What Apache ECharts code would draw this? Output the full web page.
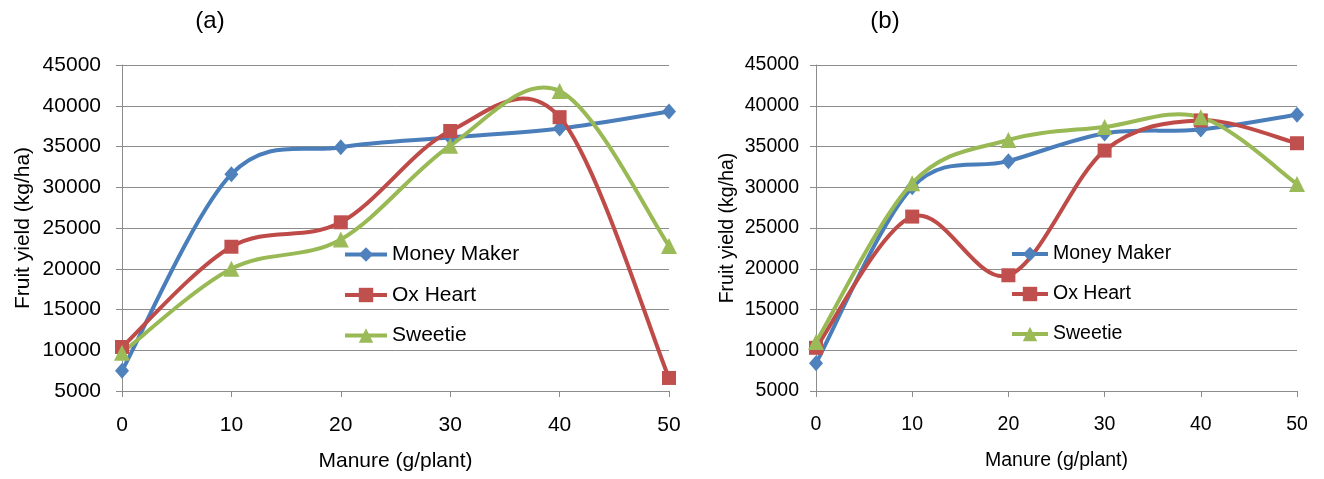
<!DOCTYPE html>
<html><head><meta charset="utf-8">
<script src="https://cdn.jsdelivr.net/npm/echarts@6/dist/echarts.min.js"></script>
<style>html,body{margin:0;padding:0;background:#fff}#c{width:1324px;height:479px}</style>
</head><body><div id="c"></div>
<script>
const manure = [0, 10, 20, 30, 40, 50];
const yTicks = [5000, 10000, 15000, 20000, 25000, 30000, 35000, 40000, 45000];
const seriesNames = ['Money Maker', 'Ox Heart', 'Sweetie'];
const aMoneyMaker = [7500, 31600, 34900, 36100, 37200, 39300];
const aOxHeart = [10400, 22700, 25700, 36900, 38600, 6600];
const aSweetie = [9700, 20000, 23600, 35100, 41800, 22800];
const bMoneyMaker = [8400, 30000, 33200, 36600, 37100, 38900];
const bOxHeart = [10300, 26400, 19200, 34500, 38200, 35400];
const bSweetie = [11000, 30500, 35800, 37400, 38600, 30400];
const panelTitles = ['(a)', '(b)'];
const xTitle = 'Manure (g/plant)';
const yTitle = 'Fruit yield (kg/ha)';

const FONT = '"Liberation Sans", Arial, sans-serif';
const lineColors = ['#4A7EBB', '#BE4B48', '#98B954'];
const markColors = ['#4F81BD', '#C0504D', '#9BBB59'];
const symbols = ['diamond', 'rect', 'triangle'];
const symSizes = [[14, 16], 14, 16];
const GRID = '#8c8c8c';

function pair(arr) { return manure.map((x, i) => [x, arr[i]]); }

function axesFor(idx, fs, ylabMargin, yNameGap) {
  const x = {
    type: 'value', gridIndex: idx, min: manure[0], max: manure[manure.length - 1], interval: 10,
    name: xTitle, nameLocation: 'middle', nameGap: 60,
    nameTextStyle: { fontFamily: FONT, fontSize: fs, color: '#000' },
    axisLine: { show: true, lineStyle: { color: GRID, width: 1 } },
    axisTick: { show: true, length: 6, lineStyle: { color: GRID } },
    axisLabel: { fontFamily: FONT, fontSize: fs, color: '#000', margin: 24 },
    splitLine: { show: false }
  };
  const y = {
    type: 'value', gridIndex: idx, min: yTicks[0], max: yTicks[yTicks.length - 1], interval: 5000,
    name: yTitle, nameLocation: 'middle', nameGap: yNameGap,
    nameTextStyle: { fontFamily: FONT, fontSize: fs, color: '#000' },
    axisLine: { show: true, lineStyle: { color: GRID, width: 1 } },
    axisTick: { show: true, length: 6, lineStyle: { color: GRID } },
    axisLabel: { fontFamily: FONT, fontSize: fs, color: '#000', margin: ylabMargin, formatter: v => String(v) },
    splitLine: { show: true, lineStyle: { color: GRID, width: 1 } }
  };
  return [x, y];
}

const [x0, y0] = axesFor(0, 21, 21, 88);
const [x1, y1] = axesFor(1, 19.5, 17, 78);

// Markers (and legend entries) via line series with hidden line
function markerSeries(idx, arrs) {
  return arrs.map((arr, k) => ({
    name: seriesNames[k], type: 'line', xAxisIndex: idx, yAxisIndex: idx,
    data: pair(arr), symbol: symbols[k], symbolSize: symSizes[k],
    showAllSymbol: true, z: 10 + k, color: lineColors[k],
    lineStyle: { color: lineColors[k], width: 0, opacity: 0 },
    itemStyle: { color: markColors[k], borderWidth: 0 },
    emphasis: { disabled: true }, animation: false
  }));
}

// Excel-style smoothed curve (Catmull-Rom Bezier) through the data, via the axis scales
function curveSeries(idx, arrs) {
  return arrs.map((arr, k) => ({
    name: seriesNames[k] + ' (curve)', type: 'custom', xAxisIndex: idx, yAxisIndex: idx,
    data: pair(arr), z: 2 + k, silent: true, animation: false, color: lineColors[k],
    renderItem: function (params, api) {
      const i = params.dataIndex;
      const n = arr.length;
      if (i >= n - 1) return null;
      const P = j => api.coord([manure[Math.max(0, Math.min(n - 1, j))], arr[Math.max(0, Math.min(n - 1, j))]]);
      const p0 = P(i - 1), p1 = P(i), p2 = P(i + 1), p3 = P(i + 2);
      const t = 1 / 6;
      return {
        type: 'bezierCurve',
        shape: {
          x1: p1[0], y1: p1[1], x2: p2[0], y2: p2[1],
          cpx1: p1[0] + (p2[0] - p0[0]) * t, cpy1: p1[1] + (p2[1] - p0[1]) * t,
          cpx2: p2[0] - (p3[0] - p1[0]) * t, cpy2: p2[1] - (p3[1] - p1[1]) * t
        },
        style: { stroke: lineColors[k], lineWidth: 4, fill: null, lineCap: 'round' }
      };
    }
  }));
}

const legendBase = (left, itemWidth, fs, gap) => ({
  orient: 'vertical', left: left, top: 244, padding: 0, itemWidth: itemWidth, itemHeight: 18,
  itemGap: gap, data: seriesNames, selectedMode: false,
  lineStyle: { width: 4, opacity: 1 },
  textStyle: { fontFamily: FONT, fontSize: fs, color: '#000', lineHeight: 20 }
});

const option = {
  animation: false,
  title: [
    { text: panelTitles[0], left: 205, top: 4, textAlign: 'center', textStyle: { fontFamily: FONT, fontSize: 24, fontWeight: 'normal', color: '#000' } },
    { text: panelTitles[1], left: 880, top: 4, textAlign: 'center', textStyle: { fontFamily: FONT, fontSize: 24, fontWeight: 'normal', color: '#000' } }
  ],
  grid: [
    { left: 122, right: 655, top: 65, bottom: 88 },
    { left: 816, right: 27, top: 65, bottom: 88 }
  ],
  xAxis: [x0, x1],
  yAxis: [y0, y1],
  legend: [legendBase(343, 42, 21, 19.5), legendBase(1010, 36, 19.5, 20)],
  series: [].concat(
    markerSeries(0, [aMoneyMaker, aOxHeart, aSweetie]),
    markerSeries(1, [bMoneyMaker, bOxHeart, bSweetie]),
    curveSeries(0, [aMoneyMaker, aOxHeart, aSweetie]),
    curveSeries(1, [bMoneyMaker, bOxHeart, bSweetie])
  )
};
const chart = echarts.init(document.getElementById('c'), null, { renderer: 'canvas' });
chart.setOption(option);
</script></body></html>
